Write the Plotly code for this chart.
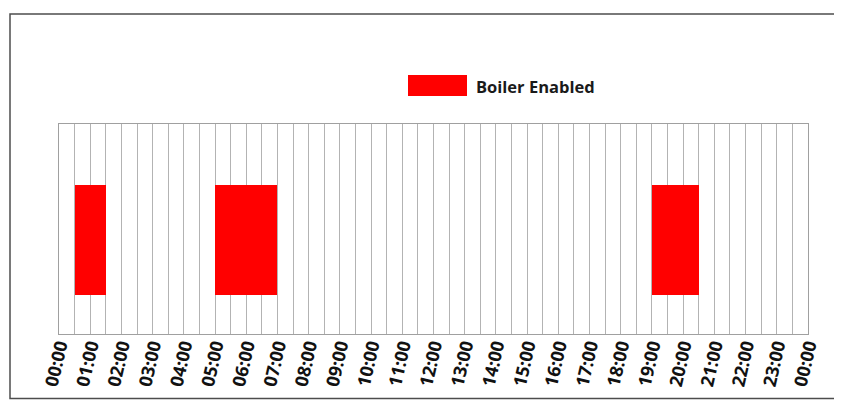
import plotly.graph_objects as go

# Data
series_name = "Boiler Enabled"
start_hours = [0.5, 5.0, 19.0]
durations = [1.0, 2.0, 1.5]
hour_labels = ["00:00", "01:00", "02:00", "03:00", "04:00", "05:00", "06:00", "07:00",
               "08:00", "09:00", "10:00", "11:00", "12:00", "13:00", "14:00", "15:00",
               "16:00", "17:00", "18:00", "19:00", "20:00", "21:00", "22:00", "23:00", "00:00"]

OFF = 8  # page body margin
W, H = 842 - OFF, 405 - OFF
L, R, T, B = 59 - OFF, 808 - OFF, 124 - OFF, 334 - OFF

tickvals = [i * 0.5 for i in range(49)]
ticktext = [hour_labels[i // 2] if i % 2 == 0 else "" for i in range(49)]

bar_low, bar_high = 0.186, 0.71

fig = go.Figure()
fig.add_trace(go.Bar(
    orientation="h",
    y=[(bar_low + bar_high) / 2] * len(start_hours),
    base=start_hours,
    x=durations,
    width=bar_high - bar_low,
    marker=dict(color="#ff0000", line=dict(width=0)),
    name=series_name,
    showlegend=False,
    hoverinfo="skip",
))

def px_x(p):
    return (p - OFF - L) / (R - L)

def px_y(p):
    return (B - (p - OFF)) / (B - T)

shapes = [
    # outer chart border
    dict(type="rect", xref="paper", yref="paper",
         x0=px_x(10), x1=px_x(835), y0=px_y(398.5), y1=px_y(14),
         line=dict(color="#4d4d4d", width=1.5), fillcolor="rgba(0,0,0,0)", layer="below"),
    # legend swatch
    dict(type="rect", xref="paper", yref="paper",
         x0=px_x(408), x1=px_x(467), y0=px_y(96), y1=px_y(75),
         line=dict(width=0), fillcolor="#ff0000"),
]

fig.update_layout(
    width=W, height=H,
    margin=dict(l=L, r=W - R, t=T, b=H - B, autoexpand=False),
    paper_bgcolor="white", plot_bgcolor="white",
    bargap=0,
    shapes=shapes,
    annotations=[dict(
        text="<b>" + series_name + "</b>", xref="paper", yref="paper",
        x=px_x(474), y=px_y(86), xanchor="left", yanchor="middle", showarrow=False,
        font=dict(family="Open Sans", size=16.5, color="#1a1a1a"),
    )],
    xaxis=dict(
        range=[0, 24], tickmode="array", tickvals=tickvals, ticktext=ticktext,
        tickangle=-77, showgrid=True, gridcolor="#b3b3b3", gridwidth=1,
        showline=True, linecolor="#a0a0a0", linewidth=1, mirror=True,
        ticks="", zeroline=False, automargin=False, ticklabelstandoff=-7,
        tickfont=dict(family="Open Sans", size=18, color="#111111", weight="bold"),
    ),
    yaxis=dict(
        range=[0, 1], showticklabels=False, showgrid=False, zeroline=False,
        showline=True, linecolor="#a0a0a0", linewidth=1, mirror=True, ticks="",
        automargin=False,
    ),
)

fig.write_html("out.html")
